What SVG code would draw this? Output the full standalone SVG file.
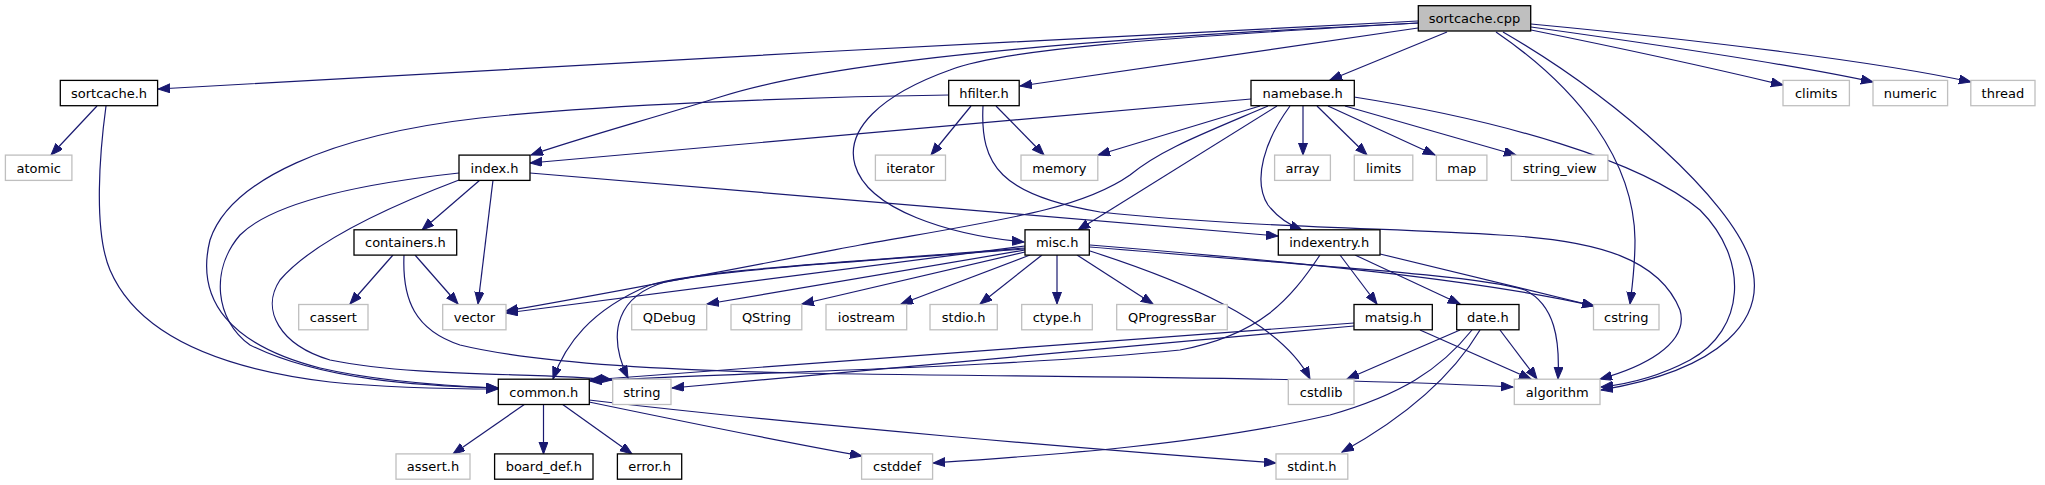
<svg xmlns="http://www.w3.org/2000/svg" width="2045" height="485" viewBox="0 0 2045 485">
<style>
.n rect{fill:#fff;stroke:#000;stroke-width:1.3}
.x rect{fill:#fff;stroke:#bfbfbf;stroke-width:1.3}
.r rect{fill:#bfbfbf;stroke:#000;stroke-width:1.3}
text{font-family:"DejaVu Sans",sans-serif;font-size:13px;text-anchor:middle;fill:#000}
#edges path{fill:none;stroke:#191970;stroke-width:1.2;marker-end:url(#a)}
</style>
<defs>
<marker id="a" markerWidth="13" markerHeight="10" refX="12" refY="4.5" orient="auto" markerUnits="userSpaceOnUse">
<path d="M0,0 L12,4.5 L0,9 z" fill="#191970" stroke="#191970" stroke-width="1"/>
</marker>
</defs>
<rect width="2045" height="485" fill="#fff"/>
<g id="edges">
<path d="M1418,21 C1050,38 500,70 158,89"/>
<path d="M1418,23 C1150,36 850,55 720,97 C650,119 580,138 531,155"/>
<path d="M1418,23 C1150,38 1000,50 950,70 C880,95 845,130 855,165 C868,210 950,235 1024,242"/>
<path d="M1418,28 L1020,86"/>
<path d="M1447,32 L1330,80"/>
<path d="M1531,30 C1620,48 1720,70 1783,85"/>
<path d="M1531,27 C1660,45 1800,66 1873,82"/>
<path d="M1531,24 C1700,40 1880,62 1971,82"/>
<path d="M1496,32 C1578,88 1634,160 1635,240 C1635,268 1632,288 1630,304"/>
<path d="M1503,32 C1620,100 1730,200 1750,260 C1770,320 1720,370 1601,390"/>
<path d="M1354,97 C1500,120 1640,160 1700,210 C1750,260 1745,330 1690,360 C1660,376 1630,384 1601,387"/>
<path d="M983,106 C980,165 1000,195 1100,212 C1250,228 1400,228 1500,235 C1600,240 1660,260 1680,310 C1690,345 1640,368 1600,379"/>
<path d="M971,106 L931,155"/>
<path d="M996,106 L1044,155"/>
<path d="M949,95 C800,97 600,105 480,118 C330,135 230,180 210,240 C195,300 230,345 320,368 C380,382 450,386 498,388"/>
<path d="M97,106 L51,155"/>
<path d="M106,106 C100,150 93,230 110,270 C140,340 230,370 330,382 C400,389 460,389 498,389"/>
<path d="M480,180 L422,230"/>
<path d="M493,180 L478,304"/>
<path d="M459,173 C350,185 270,205 240,235 C210,270 215,320 250,345 C320,380 420,386 498,388"/>
<path d="M459,180 C380,210 310,245 280,280 C260,310 280,345 330,360 C420,378 540,372 612,380"/>
<path d="M530,173 L1278,236"/>
<path d="M1251,99 L530,163"/>
<path d="M1260,106 L1098,155"/>
<path d="M1268,106 C1200,135 1160,150 1130,175 C1080,210 1000,220 860,245 C740,268 600,295 506,311"/>
<path d="M1277,106 L1078,230"/>
<path d="M1290,106 C1265,140 1252,180 1268,205 C1278,218 1292,226 1302,230"/>
<path d="M1303,106 L1303,155"/>
<path d="M1317,106 L1367,155"/>
<path d="M1328,106 L1435,155"/>
<path d="M1345,106 L1516,155"/>
<path d="M1025,246 L506,313"/>
<path d="M1025,248 C850,262 700,270 650,285 C590,310 565,345 553,379"/>
<path d="M1025,249 C850,262 720,270 665,282 C620,295 605,330 628,378"/>
<path d="M1025,250 L707,304"/>
<path d="M1025,252 L802,304"/>
<path d="M1030,255 L901,304"/>
<path d="M1042,255 L980,304"/>
<path d="M1057,255 L1057,304"/>
<path d="M1077,255 L1153,304"/>
<path d="M1090,251 C1180,280 1280,320 1310,379"/>
<path d="M1090,245 C1300,262 1480,280 1594,306"/>
<path d="M1090,247 C1300,265 1480,275 1525,290 C1555,305 1560,340 1558,379"/>
<path d="M1320,255 C1290,300 1260,335 1180,350 C1000,368 750,372 590,381"/>
<path d="M1340,255 L1377,304"/>
<path d="M1355,255 L1460,304"/>
<path d="M1380,254 L1594,306"/>
<path d="M1354,323 L590,380"/>
<path d="M1354,326 L672,388"/>
<path d="M1420,330 L1531,379"/>
<path d="M1460,330 L1347,379"/>
<path d="M1500,330 L1537,379"/>
<path d="M1472,330 C1440,370 1400,395 1330,415 C1200,445 1050,455 933,463"/>
<path d="M1480,330 C1450,380 1400,420 1342,452"/>
<path d="M393,255 L350,304"/>
<path d="M415,255 L458,304"/>
<path d="M404,255 C402,300 415,330 460,345 C530,362 650,370 800,373 C1000,377 1300,376 1513,387"/>
<path d="M525,404 L453,454"/>
<path d="M543.5,404 L543.5,454"/>
<path d="M562,404 L632,454"/>
<path d="M589,402 C700,425 800,445 862,456"/>
<path d="M589,400 C800,425 1100,450 1276,463"/>
</g>
<g id="n_sortcache_cpp" class="r"><rect x="1418.3" y="5.7" width="112.4" height="25.3"/><text x="1474.5" y="23.2">sortcache.cpp</text></g>
<g id="n_sortcache_h" class="n"><rect x="60.3" y="80.4" width="97.3" height="25.3"/><text x="109" y="97.9">sortcache.h</text></g>
<g id="n_hfilter_h" class="n"><rect x="948.7" y="80.4" width="70.5" height="25.3"/><text x="984" y="97.9">hfilter.h</text></g>
<g id="n_namebase_h" class="n"><rect x="1251" y="80.4" width="103.3" height="25.3"/><text x="1302.7" y="97.9">namebase.h</text></g>
<g id="n_climits" class="x"><rect x="1783" y="80.4" width="66.4" height="25.3"/><text x="1816.2" y="97.9">climits</text></g>
<g id="n_numeric" class="x"><rect x="1873" y="80.4" width="74.6" height="25.3"/><text x="1910.3" y="97.9">numeric</text></g>
<g id="n_thread" class="x"><rect x="1970.8" y="80.4" width="64.2" height="25.3"/><text x="2002.9" y="97.9">thread</text></g>
<g id="n_atomic" class="x"><rect x="5.4" y="155.1" width="66.5" height="25.3"/><text x="38.7" y="172.6">atomic</text></g>
<g id="n_index_h" class="n"><rect x="459" y="155.1" width="71" height="25.3"/><text x="494.5" y="172.6">index.h</text></g>
<g id="n_iterator" class="x"><rect x="875.4" y="155.1" width="70.1" height="25.3"/><text x="910.5" y="172.6">iterator</text></g>
<g id="n_memory" class="x"><rect x="1021" y="155.1" width="76.8" height="25.3"/><text x="1059.4" y="172.6">memory</text></g>
<g id="n_array" class="x"><rect x="1274.6" y="155.1" width="55.8" height="25.3"/><text x="1302.5" y="172.6">array</text></g>
<g id="n_limits" class="x"><rect x="1354.3" y="155.1" width="58.5" height="25.3"/><text x="1383.6" y="172.6">limits</text></g>
<g id="n_map" class="x"><rect x="1436.4" y="155.1" width="50.5" height="25.3"/><text x="1461.7" y="172.6">map</text></g>
<g id="n_string_view" class="x"><rect x="1511.4" y="155.1" width="96.5" height="25.3"/><text x="1559.7" y="172.6">string_view</text></g>
<g id="n_containers_h" class="n"><rect x="354" y="229.8" width="102.7" height="25.3"/><text x="405.4" y="247.3">containers.h</text></g>
<g id="n_misc_h" class="n"><rect x="1025" y="229.8" width="64.3" height="25.3"/><text x="1057.2" y="247.3">misc.h</text></g>
<g id="n_indexentry_h" class="n"><rect x="1278.3" y="229.8" width="101.7" height="25.3"/><text x="1329.2" y="247.3">indexentry.h</text></g>
<g id="n_cassert" class="x"><rect x="298.7" y="304.5" width="69.3" height="25.3"/><text x="333.4" y="322">cassert</text></g>
<g id="n_vector" class="x"><rect x="442.7" y="304.5" width="63.3" height="25.3"/><text x="474.4" y="322">vector</text></g>
<g id="n_QDebug" class="x"><rect x="631.7" y="304.5" width="75" height="25.3"/><text x="669.2" y="322">QDebug</text></g>
<g id="n_QString" class="x"><rect x="731" y="304.5" width="70.8" height="25.3"/><text x="766.4" y="322">QString</text></g>
<g id="n_iostream" class="x"><rect x="826" y="304.5" width="80.7" height="25.3"/><text x="866.4" y="322">iostream</text></g>
<g id="n_stdio_h" class="x"><rect x="930" y="304.5" width="67.3" height="25.3"/><text x="963.7" y="322">stdio.h</text></g>
<g id="n_ctype_h" class="x"><rect x="1021.7" y="304.5" width="70.6" height="25.3"/><text x="1057" y="322">ctype.h</text></g>
<g id="n_QProgressBar" class="x"><rect x="1116.7" y="304.5" width="110.6" height="25.3"/><text x="1172" y="322">QProgressBar</text></g>
<g id="n_matsig_h" class="n"><rect x="1354" y="304.5" width="78.3" height="25.3"/><text x="1393.2" y="322">matsig.h</text></g>
<g id="n_date_h" class="n"><rect x="1456.7" y="304.5" width="62.3" height="25.3"/><text x="1487.9" y="322">date.h</text></g>
<g id="n_cstring" class="x"><rect x="1593.5" y="304.5" width="65.5" height="25.3"/><text x="1626.3" y="322">cstring</text></g>
<g id="n_common_h" class="n"><rect x="498.3" y="379.2" width="91" height="25.3"/><text x="543.8" y="396.7">common.h</text></g>
<g id="n_string" class="x"><rect x="612.7" y="379.2" width="58.3" height="25.3"/><text x="641.9" y="396.7">string</text></g>
<g id="n_cstdlib" class="x"><rect x="1288.3" y="379.2" width="65.7" height="25.3"/><text x="1321.2" y="396.7">cstdlib</text></g>
<g id="n_algorithm" class="x"><rect x="1514.3" y="379.2" width="85.7" height="25.3"/><text x="1557.2" y="396.7">algorithm</text></g>
<g id="n_assert_h" class="x"><rect x="396" y="453.9" width="74" height="25.3"/><text x="433" y="471.4">assert.h</text></g>
<g id="n_board_def_h" class="n"><rect x="494.6" y="453.9" width="98.4" height="25.3"/><text x="543.8" y="471.4">board_def.h</text></g>
<g id="n_error_h" class="n"><rect x="617.4" y="453.9" width="64.3" height="25.3"/><text x="649.6" y="471.4">error.h</text></g>
<g id="n_cstddef" class="x"><rect x="861.6" y="453.9" width="71" height="25.3"/><text x="897.1" y="471.4">cstddef</text></g>
<g id="n_stdint_h" class="x"><rect x="1276" y="453.9" width="71.8" height="25.3"/><text x="1311.9" y="471.4">stdint.h</text></g>
</svg>
